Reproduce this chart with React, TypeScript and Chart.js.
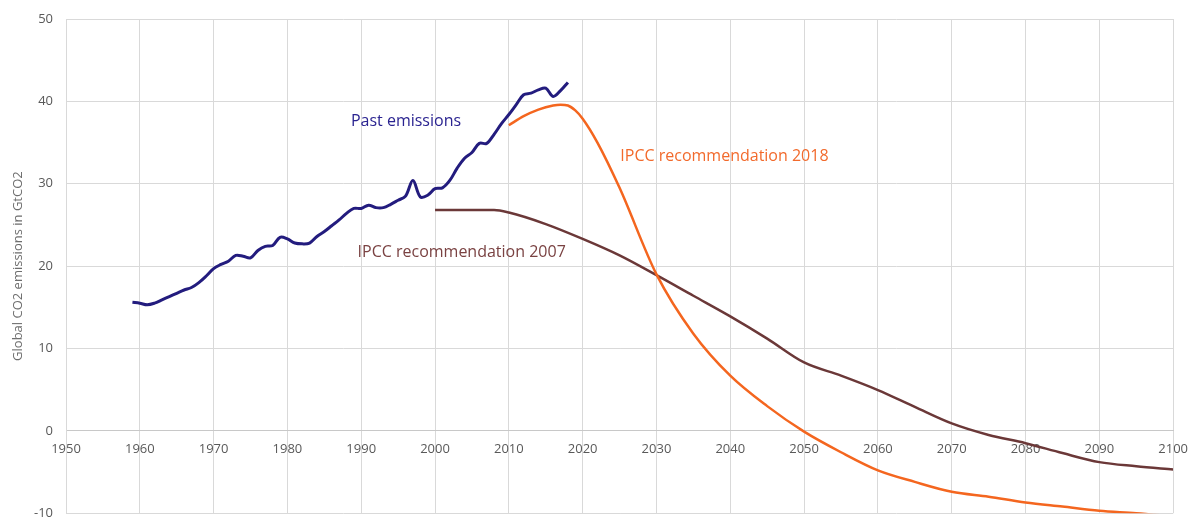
import React, { useEffect, useRef } from "react";
import { Chart, registerables } from "chart.js";

Chart.register(...registerables);

const pastYears = [
  1959, 1960, 1961, 1962, 1963, 1964, 1965, 1966, 1967, 1968, 1969,
  1970, 1971, 1972, 1973, 1974, 1975, 1976, 1977, 1978, 1979,
  1980, 1981, 1982, 1983, 1984, 1985, 1986, 1987, 1988, 1989,
  1990, 1991, 1992, 1993, 1994, 1995, 1996, 1997, 1998, 1999,
  2000, 2001, 2002, 2003, 2004, 2005, 2006, 2007, 2008, 2009,
  2010, 2011, 2012, 2013, 2014, 2015, 2016, 2017, 2018,
];
const pastValues = [
  15.6, 15.5, 15.3, 15.5, 15.9, 16.3, 16.7, 17.1, 17.4, 18.0, 18.8,
  19.7, 20.2, 20.6, 21.3, 21.2, 21.0, 21.9, 22.4, 22.5, 23.5,
  23.3, 22.8, 22.7, 22.8, 23.6, 24.2, 24.9, 25.6, 26.4, 27.0,
  27.0, 27.4, 27.1, 27.1, 27.5, 28.0, 28.5, 30.4, 28.4, 28.6,
  29.4, 29.5, 30.4, 31.9, 33.1, 33.8, 34.9, 34.9, 36.0, 37.3,
  38.4, 39.6, 40.8, 41.0, 41.4, 41.6, 40.6, 41.3, 42.3,
];

const ipcc2018Years = [
  2010, 2012, 2014, 2016, 2017, 2018, 2019, 2020, 2022, 2025, 2030,
  2035, 2040, 2045, 2050, 2055, 2060, 2065, 2070, 2075, 2080, 2085, 2090, 2095, 2100,
];
const ipcc2018Values = [
  37.1, 38.2, 39.0, 39.5, 39.6, 39.5, 38.9, 37.9, 35.0, 29.5, 19.0,
  11.8, 6.7, 3.0, -0.1, -2.6, -4.8, -6.2, -7.4, -8.0, -8.7, -9.2, -9.7, -10.0, -10.4,
];

const ipcc2007Years = [
  2000, 2004, 2008, 2010, 2015, 2020, 2025, 2030, 2035, 2040, 2045,
  2050, 2055, 2060, 2065, 2070, 2075, 2080, 2085, 2090, 2095, 2100,
];
const ipcc2007Values = [
  26.8, 26.8, 26.8, 26.5, 25.1, 23.3, 21.3, 18.9, 16.4, 13.9, 11.2,
  8.3, 6.7, 4.95, 2.9, 0.9, -0.5, -1.5, -2.7, -3.8, -4.3, -4.7,
];

const xTicks = { min: 1950, max: 2100, step: 10 };
const yTicks = { min: -10, max: 50, step: 10 };

const seriesNames = ["Past emissions", "IPCC recommendation 2018", "IPCC recommendation 2007"];
const seriesColors = ["#231C7E", "#F4661F", "#6B3838"];
const labelColors = ["#2A2390", "#F26A2C", "#7A4242"];
// label anchor points in data coordinates (year, value)
const labelYears = [1988.6, 2025.1, 1989.5];
const labelValues = [37.6, 33.3, 21.6];

const yTitle = "Global CO2 emissions in GtCO2";
const FONT = "'Open Sans', sans-serif";

export default function App() {
  const ref = useRef<HTMLCanvasElement | null>(null);

  useEffect(() => {
    document.body.style.margin = "0";
    if (!ref.current) return;

    const toPts = (xs: number[], ys: number[]) => xs.map((x, i) => ({ x, y: ys[i] }));

    const labelPlugin = {
      id: "seriesLabels",
      afterDatasetsDraw(chart: any) {
        const ctx = chart.ctx;
        const xs = chart.scales.x;
        const ys = chart.scales.y;
        ctx.save();
        ctx.font = `16px ${FONT}`;
        ctx.textAlign = "left";
        ctx.textBaseline = "middle";
        seriesNames.forEach((name, i) => {
          ctx.fillStyle = labelColors[i];
          ctx.fillText(name, xs.getPixelForValue(labelYears[i]), ys.getPixelForValue(labelValues[i]));
        });
        ctx.restore();
      },
    };

    const chart = new Chart(ref.current, {
      type: "line",
      data: {
        datasets: [
          {
            label: seriesNames[0],
            data: toPts(pastYears, pastValues),
            borderColor: seriesColors[0],
            borderWidth: 3,
            pointRadius: 0,
            tension: 0.35,
            fill: false,
          },
          {
            label: seriesNames[1],
            data: toPts(ipcc2018Years, ipcc2018Values),
            borderColor: seriesColors[1],
            borderWidth: 2.5,
            pointRadius: 0,
            cubicInterpolationMode: "monotone",
            fill: false,
          },
          {
            label: seriesNames[2],
            data: toPts(ipcc2007Years, ipcc2007Values),
            borderColor: seriesColors[2],
            borderWidth: 2.5,
            pointRadius: 0,
            cubicInterpolationMode: "monotone",
            fill: false,
          },
        ],
      },
      options: {
        responsive: false,
        animation: false,
        layout: { padding: { left: 0, right: 23, top: 19, bottom: 7 } },
        plugins: {
          legend: { display: false },
          tooltip: { enabled: false },
        },
        scales: {
          x: {
            type: "linear",
            position: { y: 0 } as any,
            min: xTicks.min,
            max: xTicks.max,
            ticks: {
              stepSize: xTicks.step,
              color: "#595959",
              font: { family: FONT, size: 13 },
              padding: 11,
              maxRotation: 0,
              callback: (v: any) => String(v),
            },
            grid: { color: "#D9D9D9", lineWidth: 1, drawTicks: false },
            border: { color: "#C8C8C8", width: 1 },
            afterFit: (scale: any) => {
              scale.height = 0;
            },
          },
          y: {
            type: "linear",
            min: yTicks.min,
            max: yTicks.max,
            ticks: {
              stepSize: yTicks.step,
              color: "#595959",
              font: { family: FONT, size: 13 },
              padding: 0,
            },
            grid: {
              color: "#D9D9D9",
              lineWidth: 1,
              drawTicks: true,
              tickLength: 13,
              tickColor: "rgba(0,0,0,0)",
            },
            border: { color: "#D9D9D9", width: 1 },
            title: {
              display: true,
              text: yTitle,
              color: "#6E6E6E",
              font: { family: FONT, size: 13 },
              padding: { top: 10, bottom: 0 },
            },
            afterFit: (scale: any) => {
              scale.width = 66;
            },
          },
        },
      },
      plugins: [labelPlugin],
    });

    return () => chart.destroy();
  }, []);

  return (
    <div style={{ position: "fixed", left: 0, top: 0, width: 1199, height: 521, background: "#fff" }}>
      <canvas ref={ref} width={1199} height={521} />
    </div>
  );
}
